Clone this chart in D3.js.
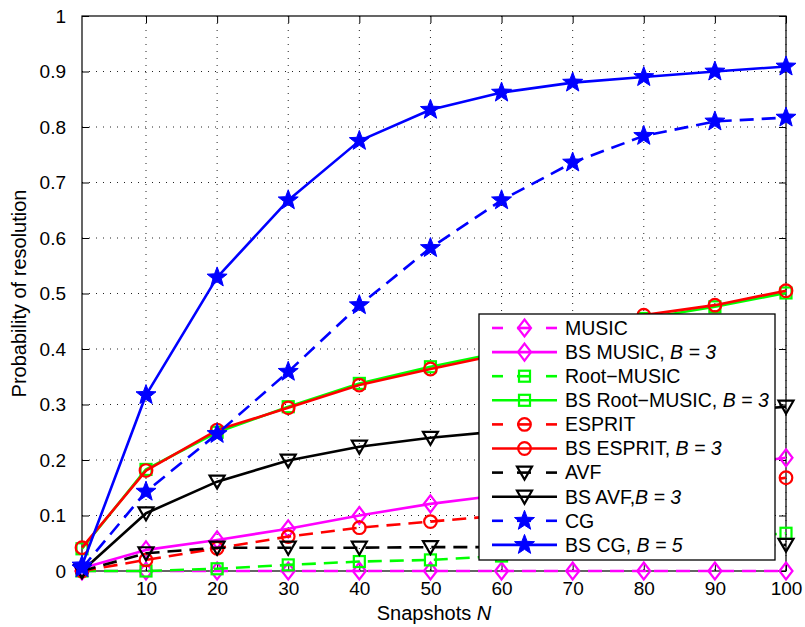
<!DOCTYPE html>
<html>
<head>
<meta charset="utf-8">
<script src="https://cdn.jsdelivr.net/npm/d3@7/dist/d3.min.js"></script>
<style>
  html, body { margin: 0; padding: 0; background: #fff; }
  svg { display: block; font-family: "Liberation Sans", Arial, Helvetica, sans-serif; }
</style>
</head>
<body>
<svg id="chart" width="805" height="627"></svg>
<script>
// Snapshot counts (x) and probability of resolution for each estimator
const snapshots   = [1, 10, 20, 30, 40, 50, 60, 70, 80, 90, 100];
const music       = [0, 0, 0, 0, 0, 0, 0, 0, 0, 0, 0];
const bsMusic     = [0.005, 0.038, 0.056, 0.076, 0.100, 0.121, 0.137, 0.155, 0.172, 0.188, 0.204];
const rootMusic   = [0, 0, 0.004, 0.011, 0.017, 0.020, 0.027, 0.037, 0.047, 0.057, 0.068];
const bsRootMusic = [0.040, 0.183, 0.250, 0.296, 0.338, 0.368, 0.394, 0.428, 0.455, 0.476, 0.501];
const esprit      = [0, 0.020, 0.041, 0.062, 0.078, 0.089, 0.100, 0.117, 0.134, 0.150, 0.168];
const bsEsprit    = [0.042, 0.181, 0.254, 0.294, 0.335, 0.364, 0.391, 0.428, 0.461, 0.479, 0.505];
const avf         = [0, 0.032, 0.042, 0.042, 0.042, 0.043, 0.043, 0.044, 0.045, 0.046, 0.047];
const bsAvf       = [0, 0.104, 0.161, 0.199, 0.224, 0.240, 0.252, 0.264, 0.276, 0.286, 0.296];
const cg          = [0.005, 0.143, 0.247, 0.359, 0.479, 0.582, 0.668, 0.736, 0.784, 0.810, 0.817];
const bsCg        = [0.010, 0.317, 0.529, 0.668, 0.775, 0.831, 0.862, 0.880, 0.890, 0.900, 0.909];

const xTicks = [10, 20, 30, 40, 50, 60, 70, 80, 90, 100];
const yTicks = [0, 0.1, 0.2, 0.3, 0.4, 0.5, 0.6, 0.7, 0.8, 0.9, 1];
const yTickLabels = ["0", "0.1", "0.2", "0.3", "0.4", "0.5", "0.6", "0.7", "0.8", "0.9", "1"];

// Series definitions: label (plain part + italic part), values, colour, dash, marker
const series = [
  { name: "MUSIC", it: "", values: music, color: "#ff00ff", dashed: true, marker: "diamond" },
  { name: "BS MUSIC, ", it: "B = 3", values: bsMusic, color: "#ff00ff", dashed: false, marker: "diamond" },
  { name: "Root\u2212MUSIC", it: "", values: rootMusic, color: "#00ff00", dashed: true, marker: "square" },
  { name: "BS Root\u2212MUSIC, ", it: "B = 3", values: bsRootMusic, color: "#00ff00", dashed: false, marker: "square" },
  { name: "ESPRIT", it: "", values: esprit, color: "#ff0000", dashed: true, marker: "circle" },
  { name: "BS ESPRIT, ", it: "B = 3", values: bsEsprit, color: "#ff0000", dashed: false, marker: "circle" },
  { name: "AVF", it: "", values: avf, color: "#000000", dashed: true, marker: "triangle" },
  { name: "BS AVF,", it: "B = 3", values: bsAvf, color: "#000000", dashed: false, marker: "triangle" },
  { name: "CG", it: "", values: cg, color: "#0000ff", dashed: true, marker: "star" },
  { name: "BS CG, ", it: "B = 5", values: bsCg, color: "#0000ff", dashed: false, marker: "star" }
];

const svg = d3.select("#chart");
const plot = { left: 82, right: 786, top: 16, bottom: 571 };

const x = d3.scaleLinear().domain([1, 100]).range([plot.left, plot.right]);
const y = d3.scaleLinear().domain([0, 1]).range([plot.bottom, plot.top]);

const FONT = 19;

// Dotted grid
const grid = svg.append("g");
grid.selectAll("line.gx").data(xTicks).join("line")
  .attr("x1", d => x(d)).attr("x2", d => x(d))
  .attr("y1", plot.top).attr("y2", plot.bottom)
  .attr("stroke", "#222").attr("stroke-width", 1).attr("stroke-dasharray", "1,6");
grid.selectAll("line.gy").data(yTicks.slice(1, -1)).join("line")
  .attr("x1", plot.left).attr("x2", plot.right)
  .attr("y1", d => y(d)).attr("y2", d => y(d))
  .attr("stroke", "#222").attr("stroke-width", 1).attr("stroke-dasharray", "1,6");

// Axes with inward ticks on all four sides
const tickLen = 7;
svg.append("g").attr("transform", `translate(0,${plot.bottom})`)
  .call(d3.axisBottom(x).tickValues(xTicks).tickSizeInner(-tickLen).tickSizeOuter(0).tickPadding(11))
  .call(g => g.select(".domain").remove());
svg.append("g").attr("transform", `translate(0,${plot.top})`)
  .call(d3.axisTop(x).tickValues(xTicks).tickSizeInner(-tickLen).tickSizeOuter(0).tickFormat(""))
  .call(g => g.select(".domain").remove());
svg.append("g").attr("transform", `translate(${plot.left},0)`)
  .call(d3.axisLeft(y).tickValues(yTicks).tickSizeInner(-tickLen).tickSizeOuter(0).tickPadding(16)
    .tickFormat((d, i) => yTickLabels[i]))
  .call(g => g.select(".domain").remove());
svg.append("g").attr("transform", `translate(${plot.right},0)`)
  .call(d3.axisRight(y).tickValues(yTicks).tickSizeInner(-tickLen).tickSizeOuter(0).tickFormat(""))
  .call(g => g.select(".domain").remove());

svg.selectAll(".tick line").attr("stroke", "#000").attr("stroke-width", 1);
svg.selectAll(".tick text").attr("font-size", FONT).attr("fill", "#000")
  .attr("font-family", "'Liberation Sans', Arial, sans-serif");

// Plot frame
svg.append("rect")
  .attr("x", plot.left).attr("y", plot.top)
  .attr("width", plot.right - plot.left).attr("height", plot.bottom - plot.top)
  .attr("fill", "none").attr("stroke", "#000").attr("stroke-width", 1.2);

// Marker shapes
function starPath(R, r) {
  const pts = [];
  for (let k = 0; k < 10; k++) {
    const a = -Math.PI / 2 + k * Math.PI / 5;
    const rad = k % 2 === 0 ? R : r;
    pts.push([rad * Math.cos(a), rad * Math.sin(a)]);
  }
  return "M" + pts.map(p => p[0].toFixed(2) + "," + p[1].toFixed(2)).join("L") + "Z";
}
function drawMarker(g, type, color, cx, cy) {
  const sw = 2.2;
  if (type === "diamond") {
    g.append("path").attr("d", `M${cx},${cy - 8.5}L${cx + 6.5},${cy}L${cx},${cy + 8.5}L${cx - 6.5},${cy}Z`)
      .attr("fill", "none").attr("stroke", color).attr("stroke-width", sw);
  } else if (type === "square") {
    g.append("rect").attr("x", cx - 5.5).attr("y", cy - 5.5).attr("width", 11).attr("height", 11)
      .attr("fill", "none").attr("stroke", color).attr("stroke-width", sw);
  } else if (type === "circle") {
    g.append("circle").attr("cx", cx).attr("cy", cy).attr("r", 6.3)
      .attr("fill", "none").attr("stroke", color).attr("stroke-width", sw);
  } else if (type === "triangle") {
    g.append("path").attr("d", `M${cx - 7.5},${cy - 6}L${cx + 7.5},${cy - 6}L${cx},${cy + 7}Z`)
      .attr("fill", "none").attr("stroke", color).attr("stroke-width", sw).attr("stroke-linejoin", "miter");
  } else if (type === "star") {
    g.append("path").attr("d", starPath(10.5, 4.4)).attr("transform", `translate(${cx},${cy})`)
      .attr("fill", color).attr("stroke", color).attr("stroke-width", 1);
  }
}

// Series lines and markers
const line = d3.line().x(d => x(d[0])).y(d => y(d[1]));
const marks = svg.append("g");
series.forEach(s => {
  const pts = snapshots.map((n, i) => [n, s.values[i]]);
  const g = marks.append("g");
  g.append("path").attr("d", line(pts))
    .attr("fill", "none").attr("stroke", s.color).attr("stroke-width", 2.6)
    .attr("stroke-dasharray", s.dashed ? "14,8" : null)
    .attr("stroke-linejoin", "round");
  pts.forEach(p => drawMarker(g, s.marker, s.color, x(p[0]), y(p[1])));
});

// Legend
const leg = { x: 479, y: 314, w: 296, h: 246, row0: 328, step: 24.1 };
const lg = svg.append("g");
lg.append("rect").attr("x", leg.x).attr("y", leg.y).attr("width", leg.w).attr("height", leg.h)
  .attr("fill", "#fff").attr("stroke", "#000").attr("stroke-width", 1.3);
series.forEach((s, i) => {
  const cy = leg.row0 + i * leg.step;
  const g = lg.append("g");
  if (s.dashed) {
    [[492, 503], [517, 531], [546, 557]].forEach(seg => {
      g.append("line").attr("x1", seg[0]).attr("x2", seg[1]).attr("y1", cy).attr("y2", cy)
        .attr("stroke", s.color).attr("stroke-width", 2.6);
    });
  } else {
    g.append("line").attr("x1", 492).attr("x2", 557).attr("y1", cy).attr("y2", cy)
      .attr("stroke", s.color).attr("stroke-width", 2.6);
  }
  drawMarker(g, s.marker, s.color, 524.5, cy);
  const t = g.append("text").attr("x", 565).attr("y", cy).attr("dy", "0.35em")
    .attr("font-size", 19.5).attr("fill", "#000");
  t.append("tspan").text(s.name);
  if (s.it) t.append("tspan").attr("font-style", "italic").text(s.it);
});

// Axis titles
const xl = svg.append("text").attr("x", (plot.left + plot.right) / 2).attr("y", 620)
  .attr("text-anchor", "middle").attr("font-size", 20).attr("fill", "#000");
xl.append("tspan").text("Snapshots ");
xl.append("tspan").attr("font-style", "italic").text("N");

svg.append("text")
  .attr("transform", `translate(26,${(plot.top + plot.bottom) / 2}) rotate(-90)`)
  .attr("text-anchor", "middle").attr("font-size", 20).attr("fill", "#000")
  .text("Probability of resolution");
</script>
</body>
</html>
